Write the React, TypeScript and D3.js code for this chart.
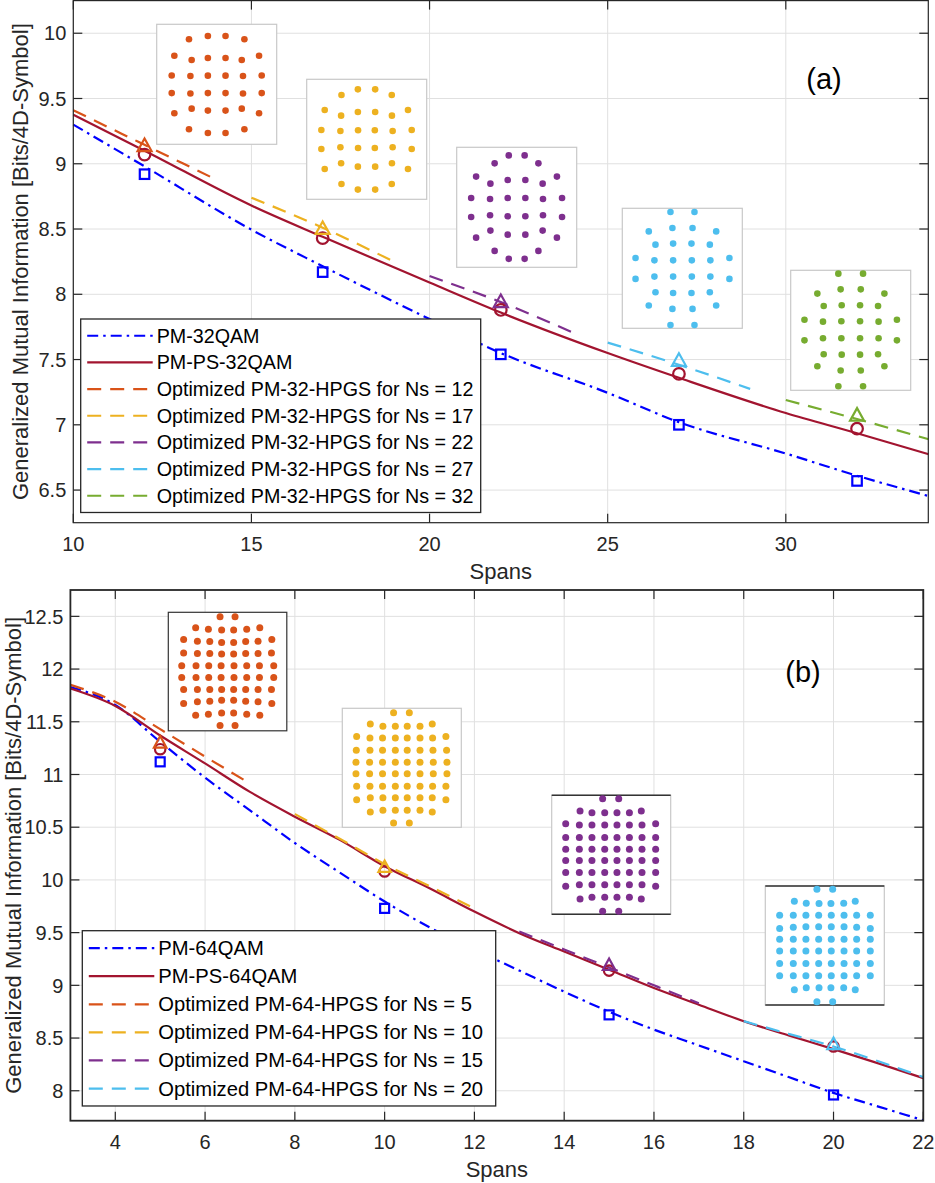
import React from 'react';
import * as d3 from 'd3';

// MATLAB default colours
const BLUE = '#0000ff';
const RED = '#a2142f';
const HPGS_COLORS = ['#d95319', '#edb120', '#7e2f8e', '#4dbeee', '#77ac30'];

// ---------- panel (a): 32-point formats ----------
const spansA = [10, 12, 15, 17, 20, 22, 25, 27, 30, 32, 34];
const gmiQam32 = [9.3, 8.98, 8.495, 8.215, 7.81, 7.55, 7.245, 7.02, 6.78, 6.61, 6.455];
const gmiPs32 = [9.375, 9.1, 8.68, 8.44, 8.09, 7.86, 7.55, 7.36, 7.09, 6.935, 6.775];
const nsA = [12, 17, 22, 27, 32];
const hpgs32Spans = [[10, 12, 14], [15, 17, 19], [20, 22, 24], [25, 27, 29], [30, 32, 34]];
const hpgs32Gmi = [[9.41, 9.145, 8.88], [8.74, 8.51, 8.25], [8.14, 7.94, 7.71], [7.63, 7.46, 7.275], [7.19, 7.044, 6.89]];
const squaresA = [8.92, 8.17, 7.54, 7.0, 6.57];
const circlesA = [9.07, 8.43, 7.88, 7.39, 6.97];
const trianglesA = [9.145, 8.51, 7.95, 7.5, 7.08];
const xTicksA = [10, 15, 20, 25, 30];
const yTicksA = [6.5, 7, 7.5, 8, 8.5, 9, 9.5, 10];
const legendA = ['PM-32QAM', 'PM-PS-32QAM',
  'Optimized PM-32-HPGS for Ns = 12', 'Optimized PM-32-HPGS for Ns = 17',
  'Optimized PM-32-HPGS for Ns = 22', 'Optimized PM-32-HPGS for Ns = 27',
  'Optimized PM-32-HPGS for Ns = 32'];

// ---------- panel (b): 64-point formats ----------
const spansB = [3, 4, 5, 6, 7, 8, 9, 10, 11, 12, 13, 14, 15, 16, 17, 18, 19, 20, 21, 22];
const gmiQam64 = [11.83, 11.66, 11.31, 10.97, 10.66, 10.35, 10.07, 9.795, 9.55, 9.34, 9.14, 8.94, 8.75, 8.58, 8.43, 8.28, 8.13, 7.98, 7.85, 7.72];
const gmiPs64 = [11.815, 11.65, 11.37, 11.105, 10.835, 10.6, 10.38, 10.13, 9.92, 9.7, 9.495, 9.32, 9.148, 8.974, 8.816, 8.66, 8.525, 8.395, 8.26, 8.12];
const nsB = [5, 10, 15, 20];
const hpgs64Spans = [[3, 4, 5, 6, 7], [8, 9, 10, 11, 12], [13, 14, 15, 16, 17], [18, 19, 20, 21, 22]];
const hpgs64Gmi = [[11.85, 11.69, 11.43, 11.17, 10.915], [10.625, 10.39, 10.15, 9.94, 9.73], [9.51, 9.34, 9.17, 9.0, 8.83], [8.66, 8.54, 8.42, 8.28, 8.13]];
const squaresB = [11.12, 9.73, 8.72, 7.96];
const circlesB = [11.24, 10.08, 9.14, 8.42];
const trianglesB = [11.31, 10.13, 9.2, 8.45];
const xTicksB = [4, 6, 8, 10, 12, 14, 16, 18, 20, 22];
const yTicksB = [8, 8.5, 9, 9.5, 10, 10.5, 11, 11.5, 12, 12.5];
const legendB = ['PM-64QAM', 'PM-PS-64QAM',
  'Optimized PM-64-HPGS for Ns = 5', 'Optimized PM-64-HPGS for Ns = 10',
  'Optimized PM-64-HPGS for Ns = 15', 'Optimized PM-64-HPGS for Ns = 20'];

// ---------- constellations (I, Q) ----------
const hpgs32Ns12 = [
  [-1.57, 2.55], [-0.5, 2.74], [0.5, 2.74], [1.57, 2.55],
  [-2.4, 1.62], [-1.42, 1.38], [-0.5, 1.49], [0.5, 1.49], [1.42, 1.38], [2.4, 1.62],
  [-2.55, 0.5], [-1.49, 0.47], [-0.5, 0.49], [0.5, 0.49], [1.49, 0.47], [2.55, 0.5],
  [-2.55, -0.5], [-1.49, -0.52], [-0.5, -0.5], [0.5, -0.5], [1.49, -0.52], [2.55, -0.5],
  [-2.4, -1.64], [-1.42, -1.38], [-0.5, -1.49], [0.5, -1.49], [1.42, -1.38], [2.4, -1.64],
  [-1.57, -2.55], [-0.5, -2.76], [0.5, -2.76], [1.57, -2.55]];
const hpgs32Ns17 = [
  [-1.43, 2.51], [-0.5, 2.83], [0.48, 2.83], [1.42, 2.51],
  [-2.38, 1.66], [-1.45, 1.34], [-0.5, 1.55], [0.48, 1.55], [1.43, 1.34], [2.34, 1.66],
  [-2.57, 0.53], [-1.49, 0.47], [-0.49, 0.51], [0.46, 0.51], [1.47, 0.47], [2.55, 0.53],
  [-2.57, -0.55], [-1.49, -0.45], [-0.49, -0.49], [0.46, -0.49], [1.47, -0.45], [2.55, -0.55],
  [-2.38, -1.68], [-1.45, -1.36], [-0.5, -1.55], [0.48, -1.55], [1.43, -1.36], [2.34, -1.68],
  [-1.43, -2.53], [-0.5, -2.85], [0.48, -2.85], [1.42, -2.53]];
const hpgs32Ns22 = [
  [-0.45, 2.94], [0.45, 2.94], [-1.25, 2.49], [1.23, 2.49],
  [-2.3, 1.74], [-1.49, 1.34], [-0.51, 1.55], [0.49, 1.55], [1.47, 1.34], [2.28, 1.74],
  [-2.58, 0.53], [-1.51, 0.47], [-0.51, 0.53], [0.49, 0.53], [1.49, 0.47], [2.57, 0.53],
  [-2.58, -0.55], [-1.51, -0.45], [-0.51, -0.51], [0.49, -0.51], [1.49, -0.45], [2.57, -0.55],
  [-2.3, -1.72], [-1.49, -1.32], [-0.51, -1.55], [0.49, -1.55], [1.47, -1.32], [2.28, -1.72],
  [-1.25, -2.47], [1.23, -2.47], [-0.45, -2.92], [0.45, -2.92]];
const hpgs32Ns27 = [
  [-0.67, 3.19], [0.69, 3.19],
  [-1.9, 2.09], [-0.56, 2.28], [0.58, 2.28], [1.92, 2.09],
  [-1.52, 1.34], [-0.52, 1.4], [0.52, 1.4], [1.56, 1.34],
  [-2.65, 0.58], [-1.58, 0.45], [-0.52, 0.45], [0.54, 0.45], [1.59, 0.45], [2.67, 0.58],
  [-2.65, -0.6], [-1.58, -0.47], [-0.52, -0.47], [0.54, -0.47], [1.59, -0.47], [2.67, -0.6],
  [-1.52, -1.36], [-0.52, -1.4], [0.52, -1.4], [1.56, -1.36],
  [-1.9, -2.11], [-0.56, -2.3], [0.58, -2.3], [1.92, -2.11],
  [-0.67, -3.21], [0.69, -3.21]];
const hpgs32Ns32 = [
  [-0.7, 3.21], [0.7, 3.21],
  [-1.89, 2.08], [-0.57, 2.32], [0.57, 2.32], [1.91, 2.08],
  [-1.53, 1.38], [-0.51, 1.42], [0.53, 1.42], [1.55, 1.38],
  [-2.62, 0.6], [-1.57, 0.49], [-0.53, 0.51], [0.53, 0.51], [1.58, 0.49], [2.62, 0.6],
  [-2.62, -0.57], [-1.57, -0.45], [-0.53, -0.45], [0.53, -0.45], [1.58, -0.45], [2.62, -0.57],
  [-1.53, -1.36], [-0.51, -1.38], [0.53, -1.38], [1.55, -1.36],
  [-1.89, -2.04], [-0.57, -2.28], [0.57, -2.28], [1.91, -2.04],
  [-0.7, -3.17], [0.7, -3.17]];

const hpgs64Ns5 = [
  [-0.43, 3.14], [0.43, 3.14],
  [-1.83, 2.51], [-1.1, 2.43], [-0.34, 2.38], [0.35, 2.38], [1.1, 2.43], [1.85, 2.51],
  [-2.52, 1.84], [-1.73, 1.74], [-1.02, 1.72], [-0.34, 1.67], [0.35, 1.67], [1.04, 1.72], [1.75, 1.74], [2.54, 1.84],
  [-2.52, 1.07], [-1.73, 1.03], [-1.02, 1.03], [-0.34, 1.0], [0.35, 1.0], [1.04, 1.03], [1.75, 1.03], [2.52, 1.07],
  [-2.63, 0.34], [-1.81, 0.34], [-1.08, 0.34], [-0.37, 0.34], [0.37, 0.34], [1.1, 0.34], [1.83, 0.34], [2.65, 0.34],
  [-2.63, -0.34], [-1.81, -0.34], [-1.08, -0.34], [-0.37, -0.34], [0.37, -0.34], [1.1, -0.34], [1.83, -0.34], [2.65, -0.34],
  [-2.52, -1.03], [-1.73, -1.03], [-1.02, -1.03], [-0.34, -1.03], [0.35, -1.03], [1.04, -1.03], [1.75, -1.03], [2.52, -1.03],
  [-2.52, -1.84], [-1.73, -1.74], [-1.02, -1.7], [-0.34, -1.65], [0.35, -1.65], [1.04, -1.7], [1.75, -1.74], [2.54, -1.84],
  [-1.83, -2.51], [-1.1, -2.45], [-0.34, -2.38], [0.35, -2.38], [1.1, -2.45], [1.85, -2.51],
  [-0.43, -3.1], [0.43, -3.1]];
const hpgs64Ns10 = [
  [-0.47, 3.14], [0.43, 3.14],
  [-1.8, 2.51], [-1.08, 2.38], [-0.37, 2.38], [0.31, 2.38], [1.04, 2.38], [1.74, 2.51],
  [-2.58, 1.79], [-1.82, 1.7], [-1.1, 1.7], [-0.37, 1.7], [0.31, 1.7], [1.04, 1.7], [1.76, 1.7], [2.52, 1.79],
  [-2.6, 1.01], [-1.82, 1.01], [-1.1, 1.01], [-0.37, 1.01], [0.31, 1.01], [1.04, 1.01], [1.78, 1.01], [2.56, 1.01],
  [-2.62, 0.32], [-1.84, 0.32], [-1.1, 0.32], [-0.37, 0.32], [0.31, 0.32], [1.04, 0.32], [1.8, 0.32], [2.58, 0.32],
  [-2.62, -0.34], [-1.84, -0.34], [-1.1, -0.34], [-0.37, -0.34], [0.31, -0.34], [1.04, -0.34], [1.8, -0.34], [2.58, -0.34],
  [-2.58, -1.05], [-1.82, -1.05], [-1.1, -1.05], [-0.37, -1.05], [0.31, -1.05], [1.04, -1.05], [1.76, -1.05], [2.52, -1.05],
  [-2.58, -1.83], [-1.8, -1.71], [-1.08, -1.71], [-0.37, -1.71], [0.31, -1.71], [1.04, -1.71], [1.74, -1.71], [2.52, -1.83],
  [-1.8, -2.53], [-1.08, -2.42], [-0.37, -2.42], [0.31, -2.42], [1.04, -2.42], [1.74, -2.53],
  [-0.47, -3.16], [0.43, -3.16]];
const hpgs64Ns15 = [
  [-0.49, 3.2], [0.43, 3.2],
  [-1.78, 2.51], [-1.1, 2.4], [-0.37, 2.4], [0.33, 2.4], [1.04, 2.4], [1.72, 2.51],
  [-2.6, 1.77], [-1.82, 1.7], [-1.1, 1.7], [-0.37, 1.7], [0.33, 1.7], [1.04, 1.7], [1.76, 1.7], [2.54, 1.77],
  [-2.6, 0.99], [-1.82, 0.99], [-1.1, 0.99], [-0.37, 0.99], [0.33, 0.99], [1.04, 0.99], [1.76, 0.99], [2.54, 0.99],
  [-2.6, 0.32], [-1.82, 0.32], [-1.1, 0.32], [-0.37, 0.32], [0.33, 0.32], [1.04, 0.32], [1.76, 0.32], [2.54, 0.32],
  [-2.6, -0.32], [-1.82, -0.32], [-1.1, -0.32], [-0.37, -0.32], [0.33, -0.32], [1.04, -0.32], [1.76, -0.32], [2.54, -0.32],
  [-2.6, -1.01], [-1.82, -1.01], [-1.1, -1.01], [-0.37, -1.01], [0.33, -1.01], [1.04, -1.01], [1.76, -1.01], [2.54, -1.01],
  [-2.6, -1.79], [-1.82, -1.71], [-1.1, -1.71], [-0.37, -1.71], [0.33, -1.71], [1.04, -1.71], [1.76, -1.71], [2.54, -1.79],
  [-1.78, -2.53], [-1.1, -2.42], [-0.37, -2.42], [0.33, -2.42], [1.04, -2.42], [1.72, -2.53],
  [-0.49, -3.22], [0.43, -3.22]];
const hpgs64Ns20 = [
  [-0.45, 3.22], [0.45, 3.22],
  [-1.74, 2.53], [-1.06, 2.42], [-0.33, 2.4], [0.35, 2.4], [1.08, 2.42], [1.74, 2.53],
  [-2.58, 1.73], [-1.8, 1.73], [-1.08, 1.73], [-0.35, 1.73], [0.37, 1.73], [1.1, 1.73], [1.82, 1.73], [2.6, 1.73],
  [-2.58, 0.97], [-1.8, 1.05], [-1.08, 1.07], [-0.35, 1.07], [0.37, 1.07], [1.1, 1.07], [1.82, 1.05], [2.6, 0.97],
  [-2.58, 0.36], [-1.8, 0.36], [-1.08, 0.36], [-0.35, 0.36], [0.37, 0.36], [1.1, 0.36], [1.82, 0.36], [2.6, 0.36],
  [-2.58, -0.32], [-1.8, -0.32], [-1.08, -0.32], [-0.35, -0.32], [0.37, -0.32], [1.1, -0.32], [1.82, -0.32], [2.6, -0.32],
  [-2.58, -1.03], [-1.8, -1.03], [-1.08, -1.03], [-0.35, -1.03], [0.37, -1.03], [1.1, -1.03], [1.82, -1.03], [2.6, -1.03],
  [-2.58, -1.73], [-1.8, -1.73], [-1.08, -1.73], [-0.35, -1.73], [0.37, -1.73], [1.1, -1.73], [1.82, -1.73], [2.6, -1.73],
  [-1.74, -2.53], [-1.06, -2.42], [-0.33, -2.42], [0.35, -2.42], [1.08, -2.42], [1.74, -2.53],
  [-0.45, -3.22], [0.45, -3.22]];

const FONT = 'Liberation Sans, Arial, Helvetica, sans-serif';
const AXIS = '#262626';
const GRID = '#e0e0e0';

type Inset = { pts: number[][]; color: string; x: number; y: number; size: number; r: number; dark?: boolean; darkAll?: boolean };

type PanelProps = {
  box: { left: number; right: number; top: number; bottom: number };
  xDomain: [number, number];
  yDomain: [number, number];
  xTicks: number[];
  yTicks: number[];
  spans: number[];
  base: number[];
  ps: number[];
  hpgsSpans: number[][];
  hpgsGmi: number[][];
  ns: number[];
  squares: number[];
  circles: number[];
  triangles: number[];
  legend: string[];
  legendBox: { x: number; y: number; w: number; rowH: number; pad: number; font: number };
  insets: Inset[];
  tag: string;
  tagPos: [number, number];
  yLabelX: number;
  axisW: number;
  mk: { tw: number; th: number; cr: number; sq: number };
};

function Constellation({ inset }: { inset: Inset }) {
  const sx = d3.scaleLinear().domain([-3.4, 3.4]).range([inset.x, inset.x + inset.size]);
  const sy = d3.scaleLinear().domain([-3.4, 3.4]).range([inset.y + inset.size, inset.y]);
  return (
    <g>
      <rect x={inset.x} y={inset.y} width={inset.size} height={inset.size} fill="#fff"
        stroke={inset.darkAll ? '#333' : '#c8c8c8'} strokeWidth={1.2} />
      {inset.dark && !inset.darkAll && (
        <g stroke="#333" strokeWidth={1.4}>
          <line x1={inset.x} x2={inset.x + inset.size} y1={inset.y} y2={inset.y} />
          <line x1={inset.x} x2={inset.x + inset.size} y1={inset.y + inset.size} y2={inset.y + inset.size} />
        </g>
      )}
      {inset.pts.map((p, i) => (
        <circle key={i} cx={sx(p[0])} cy={sy(p[1])} r={inset.r} fill={inset.color} />
      ))}
    </g>
  );
}

function Panel(p: PanelProps) {
  const { left, right, top, bottom } = p.box;
  const x = d3.scaleLinear().domain(p.xDomain).range([left, right]);
  const y = d3.scaleLinear().domain(p.yDomain).range([bottom, top]);
  const line = d3.line<number[]>().x(d => x(d[0])).y(d => y(d[1])).curve(d3.curveMonotoneX);
  const tick = 9;
  const lw = 2.2;
  const lb = p.legendBox;
  const legendH = lb.pad * 2 + lb.rowH * p.legend.length;
  const dashDot = '11,5,2.5,5';
  const dashed = '14,9';
  const legendStyles = [
    { c: BLUE, d: dashDot },
    { c: RED, d: undefined },
    ...p.ns.map((_, i) => ({ c: HPGS_COLORS[i], d: dashed })),
  ];
  return (
    <g fontFamily={FONT}>
      {/* grid */}
      <g stroke={GRID} strokeWidth={1}>
        {p.xTicks.map(t => <line key={'gx' + t} x1={x(t)} x2={x(t)} y1={top} y2={bottom} />)}
        {p.yTicks.map(t => <line key={'gy' + t} x1={left} x2={right} y1={y(t)} y2={y(t)} />)}
      </g>
      {/* insets */}
      {p.insets.map((ins, i) => <Constellation key={i} inset={ins} />)}
      {/* curves */}
      <path d={line(p.spans.map((s, i) => [s, p.base[i]])) || ''} fill="none" stroke={BLUE} strokeWidth={lw} strokeDasharray={dashDot} />
      <path d={line(p.spans.map((s, i) => [s, p.ps[i]])) || ''} fill="none" stroke={RED} strokeWidth={lw} />
      {p.hpgsSpans.map((sp, k) => (
        <path key={'h' + k} d={line(sp.map((s, i) => [s, p.hpgsGmi[k][i]])) || ''} fill="none"
          stroke={HPGS_COLORS[k]} strokeWidth={lw} strokeDasharray={dashed} />
      ))}
      {/* markers */}
      {p.ns.map((n, i) => (
        <rect key={'s' + n} x={x(n) - p.mk.sq / 2} y={y(p.squares[i]) - p.mk.sq / 2} width={p.mk.sq} height={p.mk.sq}
          fill="none" stroke={BLUE} strokeWidth={lw} />
      ))}
      {p.ns.map((n, i) => (
        <circle key={'c' + n} cx={x(n)} cy={y(p.circles[i])} r={p.mk.cr} fill="none" stroke={RED} strokeWidth={lw} />
      ))}
      {p.ns.map((n, i) => {
        const cx = x(n), cy = y(p.triangles[i]);
        const { tw, th } = p.mk;
        return (
          <path key={'t' + n} d={`M${cx},${cy - th / 2}L${cx + tw / 2},${cy + th / 2}L${cx - tw / 2},${cy + th / 2}Z`}
            fill="none" stroke={HPGS_COLORS[i]} strokeWidth={lw} strokeLinejoin="miter" />
        );
      })}
      {/* axes box */}
      <rect x={left} y={top} width={right - left} height={bottom - top} fill="none" stroke={AXIS} strokeWidth={p.axisW} />
      <g stroke={AXIS} strokeWidth={1.2}>
        {p.xTicks.map(t => (
          <g key={'tx' + t}>
            <line x1={x(t)} x2={x(t)} y1={bottom} y2={bottom - tick} />
            <line x1={x(t)} x2={x(t)} y1={top} y2={top + tick} />
          </g>
        ))}
        {p.yTicks.map(t => (
          <g key={'ty' + t}>
            <line x1={left} x2={left + tick} y1={y(t)} y2={y(t)} />
            <line x1={right} x2={right - tick} y1={y(t)} y2={y(t)} />
          </g>
        ))}
      </g>
      <g fill={AXIS} fontSize={20}>
        {p.xTicks.map(t => (
          <text key={'lx' + t} x={x(t)} y={bottom + 28.5} textAnchor="middle">{t}</text>
        ))}
        {p.yTicks.map(t => (
          <text key={'ly' + t} x={left - 7} y={y(t) + 7.2} textAnchor="end">{t}</text>
        ))}
      </g>
      <text x={(left + right) / 2} y={bottom + 56} textAnchor="middle" fontSize={22} fill={AXIS}>Spans</text>
      <text transform={`translate(${p.yLabelX},${(top + bottom) / 2}) rotate(-90)`} textAnchor="middle" fontSize={22} fill={AXIS}>
        Generalized Mutual Information [Bits/4D-Symbol]
      </text>
      <text x={p.tagPos[0]} y={p.tagPos[1]} textAnchor="middle" fontSize={29} fill="#000">{p.tag}</text>
      {/* legend */}
      <g>
        <rect x={lb.x} y={lb.y} width={lb.w} height={legendH} fill="#fff" stroke={AXIS} strokeWidth={1.3} />
        {p.legend.map((name, i) => {
          const cy = lb.y + lb.pad + lb.rowH * (i + 0.5);
          const st = legendStyles[i];
          return (
            <g key={name}>
              <line x1={lb.x + 6.5} x2={lb.x + 72} y1={cy} y2={cy} stroke={st.c} strokeWidth={lw} strokeDasharray={st.d} />
              <text x={lb.x + 76} y={cy + 7} fontSize={lb.font} fill="#000">{name}</text>
            </g>
          );
        })}
      </g>
    </g>
  );
}

export default function App() {
  const insetsA: Inset[] = [
    { pts: hpgs32Ns12, color: HPGS_COLORS[0], x: 156.7, y: 24.3, size: 120, r: 3.3 },
    { pts: hpgs32Ns17, color: HPGS_COLORS[1], x: 306.7, y: 79.3, size: 120, r: 3.3 },
    { pts: hpgs32Ns22, color: HPGS_COLORS[2], x: 456.7, y: 147.3, size: 120, r: 3.3 },
    { pts: hpgs32Ns27, color: HPGS_COLORS[3], x: 622.3, y: 208.3, size: 120, r: 3.3 },
    { pts: hpgs32Ns32, color: HPGS_COLORS[4], x: 790.7, y: 270.3, size: 120, r: 3.3 },
  ];
  const insetsB: Inset[] = [
    { pts: hpgs64Ns5, color: HPGS_COLORS[0], x: 168.3, y: 612.3, size: 118.5, r: 3.5, dark: true, darkAll: true },
    { pts: hpgs64Ns10, color: HPGS_COLORS[1], x: 342.3, y: 708.3, size: 119, r: 3.5 },
    { pts: hpgs64Ns15, color: HPGS_COLORS[2], x: 551.7, y: 795.3, size: 119, r: 3.5, dark: true },
    { pts: hpgs64Ns20, color: HPGS_COLORS[3], x: 765.3, y: 886, size: 119, r: 3.5, dark: true },
  ];
  return (
    <svg width={935} height={1183} style={{ position: 'absolute', left: 0, top: 0, background: '#fff' }}>
      <rect width={935} height={1183} fill="#fff" />
      <Panel
        box={{ left: 73.3, right: 928.3, top: 0.6, bottom: 522.7 }}
        xDomain={[10, 34]} yDomain={[6.25, 10.25]}
        xTicks={xTicksA} yTicks={yTicksA}
        spans={spansA} base={gmiQam32} ps={gmiPs32}
        hpgsSpans={hpgs32Spans} hpgsGmi={hpgs32Gmi} ns={nsA}
        squares={squaresA} circles={circlesA} triangles={trianglesA}
        legend={legendA}
        legendBox={{ x: 80.7, y: 319, w: 400, rowH: 26.67, pad: 3.4, font: 19.7 }}
        insets={insetsA} tag="(a)" tagPos={[824, 89]} yLabelX={28.3} axisW={1.2}
        mk={{ tw: 14, th: 12.5, cr: 5.8, sq: 9.5 }}
      />
      <Panel
        box={{ left: 70.4, right: 923.3, top: 590, bottom: 1120.7 }}
        xDomain={[3, 22]} yDomain={[7.716, 12.75]}
        xTicks={xTicksB} yTicks={yTicksB}
        spans={spansB} base={gmiQam64} ps={gmiPs64}
        hpgsSpans={hpgs64Spans} hpgsGmi={hpgs64Gmi} ns={nsB}
        squares={squaresB} circles={circlesB} triangles={trianglesB}
        legend={legendB}
        legendBox={{ x: 82.3, y: 930.7, w: 413.4, rowH: 28.08, pad: 3.4, font: 20.2 }}
        insets={insetsB} tag="(b)" tagPos={[803, 682]} yLabelX={21} axisW={1.8}
        mk={{ tw: 12.5, th: 11.5, cr: 5.2, sq: 9 }}
      />
    </svg>
  );
}
